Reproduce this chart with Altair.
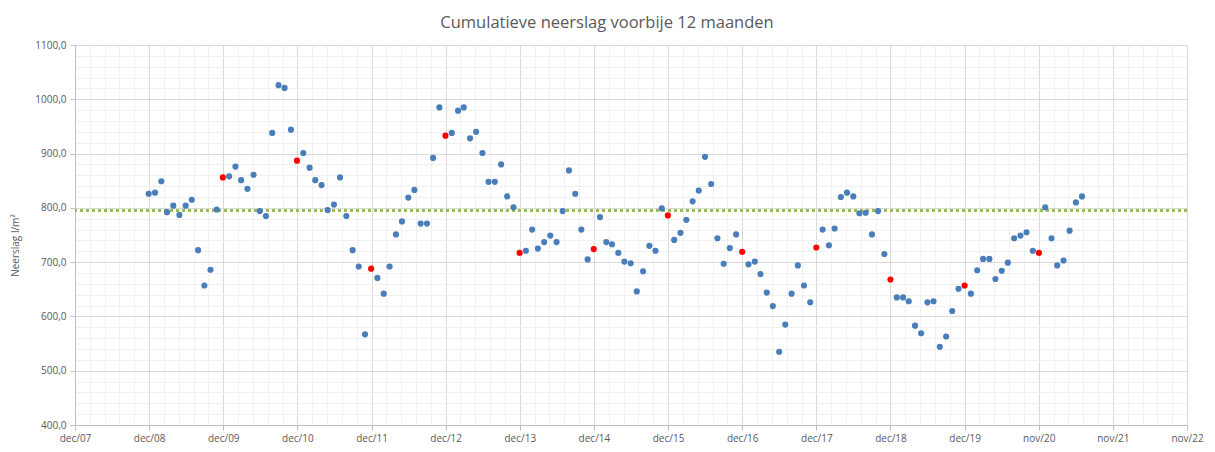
import altair as alt
import pandas as pd
from datetime import datetime, timezone

# Cumulatieve neerslag (l/m²) over de voorbije 12 maanden, maandelijks, dec 2008 - jul 2021
# Elke lijst loopt van december t/m november van het volgende jaar
y0809 = [826, 828, 849, 792, 804, 787, 804, 815, 722, 657, 686, 797]
y0910 = [856, 858, 876, 851, 835, 861, 794, 785, 938, 1026, 1021, 944]
y1011 = [887, 901, 874, 851, 842, 796, 806, 856, 785, 722, 692, 567]
y1112 = [688, 671, 642, 692, 751, 775, 819, 833, 771, 771, 892, 985]
y1213 = [933, 938, 979, 985, 928, 940, 901, 848, 848, 880, 821, 801]
y1314 = [717, 721, 760, 725, 737, 749, 737, 794, 869, 826, 760, 705]
y1415 = [724, 783, 737, 733, 717, 701, 698, 646, 683, 730, 721, 799]
y1516 = [786, 741, 754, 778, 812, 832, 894, 844, 744, 697, 726, 751]
y1617 = [719, 696, 701, 678, 644, 619, 535, 585, 642, 694, 657, 626]
y1718 = [727, 760, 731, 762, 820, 828, 821, 790, 791, 751, 794, 715]
y1819 = [668, 635, 635, 628, 583, 569, 626, 628, 544, 563, 610, 651]
y1920 = [657, 642, 685, 706, 706, 669, 684, 699, 744, 749, 755, 721]
y2021 = [717, 801, 744, 694, 703, 758, 810, 821]

gemiddelde = 795  # langjarig gemiddelde (groene stippellijn)
eerste_maand = "2008-12-01"
eerste_gemarkeerde_december = 2009

waarden = (y0809 + y0910 + y1011 + y1112 + y1213 + y1314 + y1415 + y1516
           + y1617 + y1718 + y1819 + y1920 + y2021)
maanden = pd.date_range(eerste_maand, periods=len(waarden), freq="MS")
df = pd.DataFrame({
    "datum": maanden.strftime("%Y-%m-%d"),
    "neerslag": waarden,
    "soort": ["december" if (m.month == 12 and m.year >= eerste_gemarkeerde_december) else "overig"
              for m in maanden],
})

# As-indeling (Excel datumas: stap 365 dagen vanaf 4 dec 2007)
DAG = 86400000
start = int(datetime(2007, 12, 4, tzinfo=timezone.utc).timestamp() * 1000)
hoofd_x = [start + 365 * k * DAG for k in range(16)]
neven_x = [start + 73 * j * DAG for j in range(1, 75) if j % 5 != 0]
hoofd_y = list(range(400, 1101, 100))
neven_y = [v for v in range(400, 1101, 20) if v % 100 != 0]

xdomain = [hoofd_x[0], hoofd_x[-1]]
ydomain = [400, 1100]

LABEL = "#595959"
FONT = "Open Sans"

x_scale = alt.Scale(type="utc", domain=xdomain)
y_scale = alt.Scale(domain=ydomain, nice=False, zero=False)

x_major = alt.Axis(
    orient="bottom", values=hoofd_x, title=None,
    labelExpr="lower(utcFormat(datum.value, '%b')) + '/' + utcFormat(datum.value, '%y')",
    labelFont=FONT, labelFontSize=10, labelColor=LABEL, labelPadding=3,
    grid=True, gridColor="#d9d9d9", domainColor="#bfbfbf", tickColor="#bfbfbf",
    tickSize=5, labelFlush=False, labelOverlap=False,
)
y_major = alt.Axis(
    orient="left", values=hoofd_y, title="Neerslag l/m²",
    labelExpr="replace(format(datum.value, '.1f'), '.', ',')",
    labelFont=FONT, labelFontSize=10, labelColor=LABEL, labelPadding=4,
    titleFont=FONT, titleFontSize=10, titleColor=LABEL, titleFontWeight="normal",
    titleX=-60, titleY=200, titleBaseline="middle", titleAlign="center",
    grid=True, gridColor="#d9d9d9", domainColor="#bfbfbf", tickColor="#bfbfbf",
    tickSize=5,
)
x_minor = alt.Axis(orient="top", values=neven_x, labels=False, ticks=False, domain=False,
                   grid=True, gridColor="#f0f0f0", title=None)
y_minor = alt.Axis(orient="right", values=neven_y, labels=False, ticks=False, domain=False,
                   grid=True, gridColor="#f0f0f0", title=None)

kleur = alt.Scale(domain=["overig", "december"], range=["#4a7ebb", "#ff0000"])

minor = alt.Chart(df).mark_point(opacity=0).encode(
    x=alt.X("datum:T", scale=x_scale, axis=x_minor),
    y=alt.Y("neerslag:Q", scale=y_scale, axis=y_minor),
)

lijn = alt.Chart(pd.DataFrame({"gem": [gemiddelde]})).mark_rule(
    color="#9bbb59", strokeWidth=3, strokeDash=[3, 3]
).encode(y=alt.Y("gem:Q", scale=y_scale, axis=None))

punten = alt.Chart(df).mark_circle(size=38, opacity=1).encode(
    x=alt.X("datum:T", scale=x_scale, axis=x_major),
    y=alt.Y("neerslag:Q", scale=y_scale, axis=y_major),
    color=alt.Color("soort:N", scale=kleur, legend=None),
)

chart = alt.layer(minor, lijn, punten).resolve_axis(x="independent", y="independent").properties(
    width=1112, height=380,
    autosize=alt.AutoSizeParams(type="none"),
    padding={"left": 67, "top": 37, "right": 18, "bottom": 24},
    title=alt.TitleParams(
        "Cumulatieve neerslag voorbije 12 maanden",
        font=FONT, fontSize=16.5, fontWeight="normal", color=LABEL,
        anchor="middle", dx=-24, offset=9,
    ),
).configure_view(stroke=None)

chart.save("out.html", embed_options={"renderer": "svg", "actions": False})
